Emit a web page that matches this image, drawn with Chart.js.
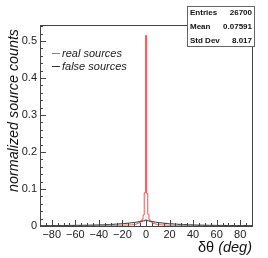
<!DOCTYPE html>
<html>
<head>
<meta charset="utf-8">
<script src="https://cdn.jsdelivr.net/npm/chart.js@4/dist/chart.umd.min.js"></script>
<style>
  html, body { margin: 0; padding: 0; background: #fff; }
  #wrap { width: 268px; height: 258px; position: relative; }
</style>
</head>
<body>
<div id="wrap"><canvas id="c"></canvas></div>
<script>
// real sources: 1 deg bins, centres -90 .. 90
const redCentres = [];
for (let x = -90; x <= 90; x++) redCentres.push(x);
const redVals = [
  0.0003,0.0003,0.0004,0.0003,0.0003,0.0004,0.0003,0.0004,0.0004,0.0003,
  0.0004,0.0004,0.0003,0.0004,0.0004,0.0004,0.0005,0.0004,0.0004,0.0005,
  0.0004,0.0005,0.0005,0.0004,0.0005,0.0005,0.0005,0.0006,0.0005,0.0005,
  0.0006,0.0005,0.0006,0.0006,0.0006,0.0007,0.0006,0.0007,0.0007,0.0006,
  0.0007,0.0008,0.0007,0.0008,0.0008,0.0008,0.0009,0.0008,0.0009,0.0009,
  0.0010,0.0009,0.0010,0.0011,0.0010,0.0011,0.0012,0.0011,0.0012,0.0013,
  0.0013,0.0014,0.0014,0.0015,0.0016,0.0016,0.0017,0.0018,0.0019,0.0020,
  0.0021,0.0022,0.0023,0.0025,0.0026,0.0028,0.0030,0.0032,0.0034,0.0037,
  0.0040,0.0046,0.0055,0.0065,0.0080,0.0100,0.0130,0.0180,0.0300,0.0900,
  0.5150,
  0.0880,0.0310,0.0175,0.0125,0.0100,0.0080,0.0066,0.0055,0.0046,0.0040,
  0.0037,0.0034,0.0032,0.0030,0.0028,0.0026,0.0025,0.0023,0.0022,0.0021,
  0.0020,0.0019,0.0018,0.0017,0.0016,0.0016,0.0015,0.0014,0.0014,0.0013,
  0.0013,0.0012,0.0011,0.0012,0.0011,0.0010,0.0011,0.0010,0.0009,0.0010,
  0.0009,0.0009,0.0008,0.0009,0.0008,0.0008,0.0008,0.0007,0.0008,0.0007,
  0.0006,0.0007,0.0007,0.0006,0.0007,0.0006,0.0006,0.0006,0.0005,0.0006,
  0.0005,0.0005,0.0006,0.0005,0.0005,0.0005,0.0004,0.0005,0.0005,0.0004,
  0.0005,0.0004,0.0004,0.0004,0.0003,0.0004,0.0004,0.0003,0.0004,0.0003,
  0.0004,0.0003,0.0003,0.0004,0.0003,0.0003,0.0003,0.0004,0.0003,0.0003
];

// false sources: 2 deg bins, centres -90 .. 90
const blackCentres = [];
for (let x = -90; x <= 90; x += 2) blackCentres.push(x);
const blackVals = [
  0.0010,0.0011,0.0010,0.0012,0.0011,0.0012,0.0013,0.0012,0.0014,0.0013,0.0015,0.0014,0.0016,0.0017,0.0016,
  0.0018,0.0019,0.0018,0.0020,0.0022,0.0021,0.0024,0.0025,0.0027,0.0028,0.0031,0.0032,0.0035,0.0037,0.0040,
  0.0043,0.0046,0.0050,0.0054,0.0058,0.0063,0.0068,0.0074,0.0080,0.0088,0.0096,0.0105,0.0115,0.0127,0.0140,
  0.0160,
  0.0141,0.0126,0.0116,0.0104,0.0095,0.0087,0.0081,0.0073,0.0069,0.0062,0.0059,0.0053,0.0051,0.0045,0.0044,
  0.0039,0.0037,0.0034,0.0033,0.0030,0.0028,0.0026,0.0025,0.0023,0.0021,0.0021,0.0019,0.0020,0.0018,0.0017,
  0.0016,0.0017,0.0015,0.0014,0.0015,0.0013,0.0014,0.0012,0.0013,0.0012,0.0011,0.0012,0.0010,0.0011,0.0010
];

const xTicks = [-80, -60, -40, -20, 0, 20, 40, 60, 80];
const yTicks = [0, 0.1, 0.2, 0.3, 0.4, 0.5];
const statNames = ['Entries', 'Mean', 'Std Dev'];
const statValues = ['26700', '0.07591', '8.017'];
const legendLabels = ['real sources', 'false sources'];
const legendColors = ['#ff5050', '#333333'];

const FONT = '"Liberation Sans", Arial, sans-serif';

// frame, inward ticks, titles, legend and stats box (ROOT look)
const decor = {
  id: 'decor',
  afterDatasetsDraw(chart) {
    const { ctx, chartArea: a, scales: { x, y } } = chart;
    ctx.save();
    ctx.strokeStyle = '#444';
    ctx.lineWidth = 1;
    ctx.strokeRect(Math.round(a.left) + 0.5, Math.round(a.top) + 0.5,
      Math.round(a.right - a.left), Math.round(a.bottom - a.top));

    ctx.beginPath();
    for (let v = -90; v <= 90; v += 5) {
      const px = Math.round(x.getPixelForValue(v)) + 0.5;
      const len = v % 20 === 0 && Math.abs(v) <= 80 ? 6 : 3;
      ctx.moveTo(px, a.bottom); ctx.lineTo(px, a.bottom - len);
    }
    for (let i = 0; i <= 27; i++) {
      const v = i * 0.02;
      const py = Math.round(y.getPixelForValue(v)) + 0.5;
      const len = i % 5 === 0 ? 6 : 3;
      ctx.moveTo(a.left, py); ctx.lineTo(a.left + len, py);
    }
    ctx.stroke();

    // y title
    ctx.fillStyle = '#111';
    ctx.save();
    ctx.translate(17.5, 29);
    ctx.rotate(-Math.PI / 2);
    ctx.font = 'italic 14.3px ' + FONT;
    ctx.textAlign = 'right';
    ctx.textBaseline = 'alphabetic';
    ctx.fillText('normalized source counts', 0, 0);
    ctx.restore();

    // x title
    ctx.textBaseline = 'alphabetic';
    ctx.textAlign = 'left';
    ctx.font = 'italic 14.5px ' + FONT;
    const t2 = ' (deg)';
    const w2 = ctx.measureText(t2).width;
    ctx.fillText(t2, a.right - w2, 252);
    ctx.font = '14.5px ' + FONT;
    const w1 = ctx.measureText('δθ').width;
    ctx.fillText('δθ', a.right - w2 - w1, 252);

    // legend
    ctx.font = 'italic 11px ' + FONT;
    ctx.textBaseline = 'middle';
    legendLabels.forEach((lab, i) => {
      const ly = 53 + i * 13 + 0.5;
      ctx.strokeStyle = legendColors[i];
      ctx.beginPath(); ctx.moveTo(52, ly); ctx.lineTo(60, ly); ctx.stroke();
      ctx.fillStyle = '#222';
      ctx.fillText(lab, 62, ly);
    });

    // stats box
    ctx.fillStyle = '#fff';
    ctx.fillRect(187, 6, 68, 41);
    ctx.strokeStyle = '#666';
    ctx.strokeRect(187.5, 6.5, 67, 40);
    ctx.fillStyle = '#111';
    ctx.font = 'bold 8px ' + FONT;
    statNames.forEach((n, i) => {
      const sy = 13 + i * 13.7;
      ctx.textAlign = 'left';
      ctx.fillText(n, 190, sy);
      ctx.textAlign = 'right';
      ctx.fillText(statValues[i], 252, sy);
    });
    ctx.restore();
  }
};

new Chart(document.getElementById('c'), {
  type: 'line',
  data: {
    datasets: [
      {
        label: 'false sources',
        data: blackCentres.map((c, i) => ({ x: c, y: blackVals[i] })),
        borderColor: '#333',
        borderWidth: 1,
        stepped: 'middle',
        pointRadius: 0
      },
      {
        label: 'real sources',
        data: redCentres.map((c, i) => ({ x: c, y: redVals[i] })),
        borderColor: '#ff5050',
        borderWidth: 1,
        stepped: 'middle',
        pointRadius: 0
      }
    ]
  },
  plugins: [decor],
  options: {
    responsive: true,
    maintainAspectRatio: false,
    animation: false,
    layout: { padding: { left: 0, top: 25, right: 16, bottom: 0 } },
    plugins: { legend: { display: false }, tooltip: { enabled: false } },
    scales: {
      x: {
        type: 'linear', min: -90, max: 90,
        afterBuildTicks: s => { s.ticks = xTicks.map(v => ({ value: v })); },
        afterFit: s => { s.height = 32; },
        grid: { display: false, drawTicks: false },
        border: { display: false },
        ticks: {
          padding: 2, color: '#222', maxRotation: 0, autoSkip: false,
          font: { family: FONT, size: 11 },
          callback: v => String(v).replace('-', '\u2212')
        }
      },
      y: {
        type: 'linear', min: 0, max: 0.543,
        afterBuildTicks: s => { s.ticks = yTicks.map(v => ({ value: v })); },
        afterFit: s => { s.width = 40; },
        grid: { display: false, drawTicks: false },
        border: { display: false },
        ticks: {
          padding: 3, color: '#222', autoSkip: false,
          font: { family: FONT, size: 11 },
          callback: v => v === 0 ? '0' : v.toFixed(1)
        }
      }
    }
  }
});
</script>
</body>
</html>
